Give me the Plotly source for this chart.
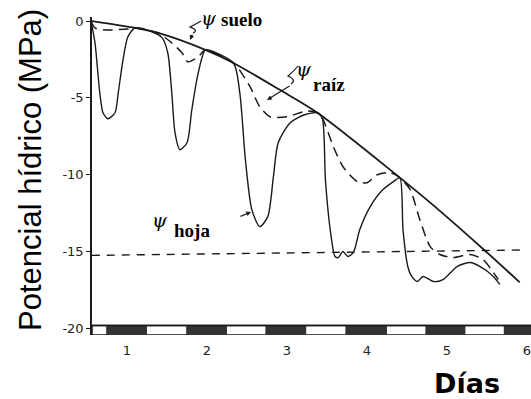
import plotly.graph_objects as go

# ---------------- data (days, MPa) ----------------
day_soil = [0.55, 1.10, 1.39, 1.98, 2.33, 2.91, 3.38, 4.41, 4.79, 5.50, 5.91]
psi_soil = [0.0, -0.45, -0.78, -1.88, -2.73, -4.48, -5.97, -10.19, -11.82, -15.06, -17.01]

day_leaf = [0.55, 0.60, 0.66, 0.70, 0.76, 0.85, 0.89, 0.95, 1.01, 1.10, 1.29,
            1.44, 1.51, 1.56, 1.60, 1.66, 1.75, 1.81, 1.88, 1.94, 1.98,
            2.33, 2.41, 2.48, 2.56, 2.66, 2.76, 2.83, 2.89, 3.04, 3.22, 3.38,
            3.44, 3.48, 3.54, 3.60, 3.64, 3.70, 3.76, 3.83, 3.91, 4.04, 4.20, 4.33, 4.41,
            4.45, 4.51, 4.56, 4.63, 4.70, 4.83, 4.95, 5.13, 5.29, 5.41, 5.58, 5.66]
psi_leaf = [0.0, -1.43, -4.68, -5.97, -6.36, -5.97, -4.68, -2.53, -1.04, -0.45, -0.65,
            -1.10, -2.08, -4.68, -7.27, -8.38, -7.92, -5.78, -3.64, -2.34, -1.88,
            -2.73, -4.68, -9.03, -12.27, -13.38, -12.73, -10.13, -7.92, -6.62, -6.10, -5.97,
            -6.30, -10.32, -13.57, -15.32, -15.39, -15.00, -15.32, -15.06, -13.57, -12.08, -10.97, -10.45, -10.19,
            -13.57, -15.97, -16.62, -16.95, -16.62, -16.95, -16.82, -15.97, -15.71, -15.97, -16.62, -17.14]

day_root = [0.55, 0.60, 0.73, 1.01, 1.10, 1.39, 1.56, 1.69, 1.76, 1.89, 1.98,
            2.33, 2.38, 2.54, 2.66, 2.79, 3.00, 3.25, 3.38,
            3.44, 3.58, 3.70, 3.88, 4.00, 4.13, 4.29, 4.41,
            4.54, 4.66, 4.79, 4.91, 5.08, 5.29, 5.45, 5.58, 5.64]
psi_root = [0.0, -0.45, -0.58, -0.52, -0.45, -0.78, -1.43, -2.08, -2.66, -2.34, -1.88,
            -2.73, -2.99, -4.29, -5.58, -6.23, -6.23, -5.85, -5.97,
            -6.30, -8.18, -9.48, -10.45, -10.52, -10.00, -9.87, -10.19,
            -10.97, -12.92, -14.68, -15.19, -15.39, -15.19, -15.52, -16.36, -16.82]

day_threshold = [0.56, 5.95]
psi_threshold = [-15.25, -14.9]

night_start = [0.74, 1.74, 2.73, 3.73, 4.73, 5.71]
night_end = [1.25, 2.25, 3.24, 4.25, 5.23, 6.05]

x_tickvals = [1, 2, 3, 4, 5, 6]
x_ticktext = ["1", "2", "3", "4", "5", "6"]
y_tickvals = [0, -5, -10, -15, -20]
y_ticktext = ["0", "-5", "-10", "-15", "-20"]

# ---------------- figure ----------------
INK = "#1a1a1a"
fig = go.Figure()

fig.add_trace(go.Scatter(x=day_threshold, y=psi_threshold, mode="lines",
                         line=dict(color=INK, width=1.4, dash="8px,7px"), hoverinfo="skip"))
fig.add_trace(go.Scatter(x=day_soil, y=psi_soil, mode="lines",
                         line=dict(color=INK, width=1.8, shape="spline", smoothing=0.8), hoverinfo="skip"))
fig.add_trace(go.Scatter(x=day_root, y=psi_root, mode="lines",
                         line=dict(color=INK, width=1.5, shape="spline", smoothing=0.7, dash="10px,6px"),
                         hoverinfo="skip"))
fig.add_trace(go.Scatter(x=day_leaf, y=psi_leaf, mode="lines",
                         line=dict(color=INK, width=1.4, shape="spline", smoothing=0.7), hoverinfo="skip"))

X0, X1 = 0.5625, 6.05
Y0, Y1 = -20.43, 0.26
BAR_TOP, BAR_BOT = -19.81, -20.43

shapes = [dict(type="rect", xref="x", yref="y", x0=X0, x1=X1, y0=BAR_BOT, y1=BAR_TOP,
               line=dict(color=INK, width=1.5), fillcolor="white", layer="above")]
for s, e in zip(night_start, night_end):
    shapes.append(dict(type="rect", xref="x", yref="y", x0=s, x1=e, y0=BAR_BOT, y1=BAR_TOP,
                       line=dict(width=0), fillcolor="#333333", layer="above"))
shapes.append(dict(type="line", xref="x", yref="y", x0=X0, x1=X1, y0=BAR_TOP, y1=BAR_TOP,
                   line=dict(color=INK, width=1.5), layer="above"))


def dx(px):
    return (px - 47) / 80.0


def dy(py):
    return -(py - 21) / 15.37


def pt(px, py):
    return "%.4f,%.4f" % (dx(px), dy(py))


# small hand-drawn squiggles at the arrow tails
for pts in [[(193, 33), (199, 30), (190, 27), (196, 24), (201, 21)],
            [(291, 84), (297, 80), (288, 76), (294, 71), (298, 66)]]:
    path = "M " + pt(*pts[0]) + " Q " + pt(*pts[1]) + " " + pt(*pts[2]) + " Q " + pt(*pts[3]) + " " + pt(*pts[4])
    shapes.append(dict(type="path", xref="x", yref="y", path=path, line=dict(color=INK, width=1.2)))

serif = "Liberation Serif, Times New Roman, serif"
ann = []
for txt, cx, cy in [("suelo", 241, 19), ("raíz", 329, 84), ("hoja", 192, 231)]:
    ann.append(dict(x=dx(cx), y=dy(cy), xref="x", yref="y", text="<b>%s</b>" % txt, showarrow=False,
                    font=dict(family=serif, size=19, color="black"), xanchor="center", yanchor="middle"))
for cx, cy in [(209, 18), (304, 69), (160, 220)]:
    ann.append(dict(x=dx(cx), y=dy(cy), xref="x", yref="y", text="<i>ψ</i>", showarrow=False,
                    font=dict(family="DejaVu Serif, serif", size=19, color="black"),
                    xanchor="center", yanchor="middle"))
for hx, hy, tx, ty in [(190, 40, 193, 33), (267, 100, 291, 85), (251, 212, 239, 217)]:
    ann.append(dict(x=dx(hx), y=dy(hy), xref="x", yref="y", text="", showarrow=True,
                    ax=tx - hx, ay=ty - hy, arrowhead=2, arrowsize=0.8, arrowwidth=1.2, arrowcolor=INK))
ann.append(dict(x=(30 - 92) / 439.0, y=(335 - 170) / 318.0, xref="paper", yref="paper",
                text="Potencial hídrico (MPa)", textangle=-90, showarrow=False, borderpad=0,
                font=dict(family="Liberation Sans, Arial, sans-serif", size=31, color="black"),
                xanchor="center", yanchor="middle"))
ann.append(dict(x=(467 - 92) / 439.0, y=(335 - 383) / 318.0, xref="paper", yref="paper",
                text="<b>Días</b>", showarrow=False, borderpad=0,
                font=dict(family="DejaVu Sans, sans-serif", size=27, color="black"),
                xanchor="center", yanchor="middle"))

fig.update_layout(
    width=531, height=399,
    margin=dict(l=92, r=0, t=17, b=64),
    paper_bgcolor="white", plot_bgcolor="white",
    showlegend=False,
    shapes=shapes,
    annotations=ann,
    xaxis=dict(range=[X0, X1], tickvals=x_tickvals, ticktext=x_ticktext, showgrid=False, zeroline=False,
               showline=False, ticks="", ticklabelstandoff=6, ticklabeloverflow="allow",
               tickfont=dict(family="DejaVu Sans, sans-serif", size=13, color="#222")),
    yaxis=dict(range=[Y0, Y1], tickvals=y_tickvals, ticktext=y_ticktext, showgrid=False, zeroline=False,
               showline=True, linecolor=INK, linewidth=1.5, ticks="outside", ticklen=4, tickcolor=INK,
               tickfont=dict(family="DejaVu Sans, sans-serif", size=13, color="#222")),
)

fig.write_html("out.html", config={"displayModeBar": False},
               post_script="document.body.style.margin='0';document.body.style.overflow='hidden';")
